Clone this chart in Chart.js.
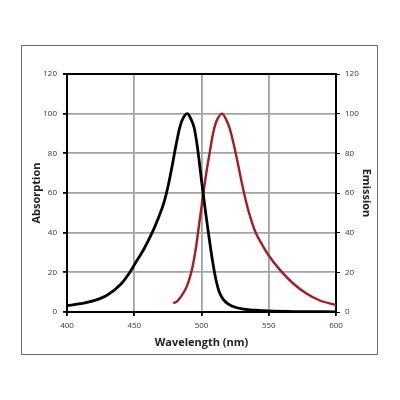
<!DOCTYPE html>
<html>
<head>
<meta charset="utf-8">
<script src="https://cdn.jsdelivr.net/npm/chart.js@4.4.1/dist/chart.umd.min.js"></script>
<style>
html, body { margin: 0; padding: 0; background: #fff; }
#frame { position: absolute; left: 21px; top: 45px; width: 357px; height: 310px; box-sizing: border-box; border: 1px solid #6e6e6e; }
#frame canvas { display: block; }
</style>
</head>
<body>
<div id="frame"><canvas id="spectra" width="355" height="308"></canvas></div>
<script>
// absorption (black) and emission (red) spectra
var absWavelength = [400, 410, 420, 430, 440, 447, 452, 457, 464, 468, 472, 475, 478, 481, 484, 486.5, 489.5, 492, 494.5, 497, 499, 501, 503, 505, 507, 509, 511, 513, 516, 520, 525, 530, 540, 550, 575, 600];
var absValues     = [3.2, 4.2, 5.7, 8.6, 14, 20.3, 26, 31.5, 41, 47.5, 55, 63, 73, 84, 93.5, 98, 100, 97.5, 93, 83, 72, 61, 50.5, 40.5, 31, 22.5, 15.5, 10.5, 6.5, 4, 2.4, 1.6, 0.9, 0.5, 0.2, 0.1];

var emWavelength = [479, 482, 485, 489, 492, 494, 496, 498, 500, 502, 504, 506, 508, 510, 512, 515.3, 518, 521, 524, 527, 530, 533, 536, 540, 545, 550, 558, 568, 578, 588, 600];
var emValues     = [4.4, 5.5, 8, 12.8, 19, 25, 33, 43, 53, 63, 72, 80, 88, 94, 97.5, 100, 97.5, 92.5, 84.5, 75, 65, 56, 48.5, 40.5, 34, 28.5, 21.5, 14.5, 9.3, 5.8, 3.5];

var xTicks = [400, 450, 500, 550, 600];
var yTicks = [0, 20, 40, 60, 80, 100, 120];

function toPoints(xs, ys) {
    return xs.map(function (x, i) { return { x: x, y: ys[i] }; });
}

var gridGray = '#a3a3a3';
var tickFont = { family: '"Open Sans", "Liberation Sans", sans-serif', size: 8 };
var titleFont = { family: '"Open Sans", "Liberation Sans", sans-serif', size: 11, weight: 'bold' };

new Chart(document.getElementById('spectra'), {
    type: 'line',
    data: {
        datasets: [
            {
                label: 'Absorption',
                data: toPoints(absWavelength, absValues),
                borderColor: '#000000',
                borderWidth: 2.8,
                pointRadius: 0,
                cubicInterpolationMode: 'monotone',
                yAxisID: 'y'
            },
            {
                label: 'Emission',
                data: toPoints(emWavelength, emValues),
                borderColor: '#a51d24',
                borderWidth: 2.4,
                pointRadius: 0,
                cubicInterpolationMode: 'monotone',
                yAxisID: 'y1'
            }
        ]
    },
    options: {
        responsive: false,
        animation: false,
        layout: { padding: { top: 28, left: 0, right: 0, bottom: 0 } },
        plugins: { legend: { display: false }, tooltip: { enabled: false } },
        scales: {
            x: {
                type: 'linear',
                min: 400,
                max: 600,
                afterBuildTicks: function (scale) {
                    scale.ticks = xTicks.map(function (v) { return { value: v }; });
                },
                afterFit: function (scale) { scale.height = 42; },
                grid: {
                    color: function (ctx) {
                        var v = ctx.tick && ctx.tick.value;
                        return (v === 400 || v === 600) ? '#000' : gridGray;
                    },
                    lineWidth: 1.8,
                    tickColor: '#000',
                    tickLength: 4
                },
                border: { color: '#000', width: 2 },
                ticks: { font: tickFont, color: '#333', padding: 5, maxRotation: 0 },
                title: { display: true, text: 'Wavelength (nm)', font: titleFont, color: '#222', padding: { top: 0, bottom: 5 } }
            },
            y: {
                position: 'left',
                min: 0,
                max: 120,
                afterBuildTicks: function (scale) {
                    scale.ticks = yTicks.map(function (v) { return { value: v }; });
                },
                afterFit: function (scale) { scale.width = 45; },
                grid: {
                    color: function (ctx) {
                        return ctx.tick && ctx.tick.value === 120 ? '#000' : gridGray;
                    },
                    lineWidth: function (ctx) {
                        return ctx.tick && ctx.tick.value === 120 ? 2 : 1.8;
                    },
                    tickColor: '#000',
                    tickLength: 4
                },
                border: { color: '#000', width: 2 },
                ticks: { font: tickFont, color: '#333', padding: 6 },
                title: { display: true, text: 'Absorption', font: titleFont, color: '#222', padding: { top: 8, bottom: 0 } }
            },
            y1: {
                position: 'right',
                min: 0,
                max: 120,
                afterBuildTicks: function (scale) {
                    scale.ticks = yTicks.map(function (v) { return { value: v }; });
                },
                afterFit: function (scale) { scale.width = 41; },
                grid: { drawOnChartArea: false, tickColor: '#000', tickLength: 4 },
                border: { color: '#000', width: 2 },
                ticks: { font: tickFont, color: '#333', padding: 5 },
                title: { display: true, text: 'Emission', font: titleFont, color: '#222', padding: { top: 4, bottom: 0 } }
            }
        }
    }
});
</script>
</body>
</html>
